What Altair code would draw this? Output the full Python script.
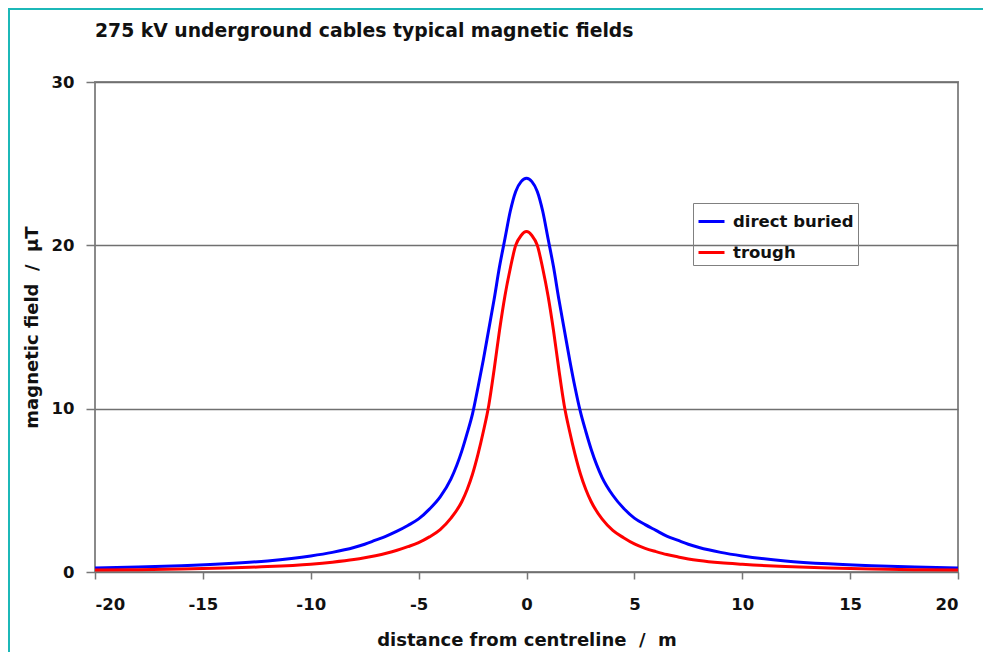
import altair as alt
import pandas as pd

# ---- data ----
x_m = [-20, -18, -16, -14, -12, -10, -9, -8, -7.5, -7, -6.5, -6, -5.5, -5, -4.5, -4, -3.5, -3,
       -2.75, -2.5, -2.25, -2, -1.75, -1.5, -1.25, -1, -0.75, -0.5, -0.25, 0,
       0.25, 0.5, 0.75, 1, 1.25, 1.5, 1.75, 2, 2.25, 2.5, 2.75,
       3, 3.5, 4, 4.5, 5, 5.5, 6, 6.5, 7, 7.5, 8, 9, 10, 12, 14, 16, 18, 20]

direct_buried = [0.25, 0.3, 0.38, 0.5, 0.68, 0.98, 1.2, 1.5, 1.7, 1.95, 2.2, 2.5, 2.85, 3.25, 3.85, 4.6, 5.7, 7.4,
                 8.5, 9.7, 11.3, 13.0, 14.85, 16.7, 18.7, 20.4, 22.1, 23.3, 23.9, 24.1,
                 23.9, 23.3, 22.1, 20.4, 18.7, 16.7, 14.85, 13.0, 11.3, 9.8, 8.6,
                 7.5, 5.8, 4.7, 3.9, 3.3, 2.9, 2.55, 2.2, 1.95, 1.7, 1.5, 1.2, 0.98, 0.68, 0.5, 0.38, 0.3, 0.25]

trough = [0.12, 0.14, 0.18, 0.24, 0.33, 0.48, 0.6, 0.76, 0.87, 1.0, 1.15, 1.33, 1.55, 1.8, 2.15, 2.6, 3.3, 4.3,
          5.05, 6.0, 7.2, 8.6, 10.2, 12.4, 14.8, 16.9, 18.6, 20.0, 20.6, 20.84,
          20.6, 20.0, 18.6, 16.9, 14.8, 12.4, 10.2, 8.6, 7.2, 6.0, 5.05,
          4.3, 3.25, 2.55, 2.1, 1.72, 1.45, 1.25, 1.07, 0.93, 0.8, 0.7, 0.56, 0.47, 0.33, 0.24, 0.18, 0.14, 0.12]

series_names = ["direct buried", "trough"]
series_colors = ["#0000ff", "#ff0000"]
x_ticks = [-20, -15, -10, -5, 0, 5, 10, 15, 20]
y_ticks = [0, 10, 20, 30]

rows = []
for name, vals in zip(series_names, [direct_buried, trough]):
    for xv, v in zip(x_m, vals):
        rows.append({"x": xv, "B": v, "series": name})
df = pd.DataFrame(rows)

FONT = "DejaVu Sans"
TEAL = "#1cb8b8"

lines = alt.Chart(df).mark_line(strokeWidth=3, interpolate="monotone", strokeJoin="round").encode(
    x=alt.X("x:Q",
            scale=alt.Scale(domain=[-20, 20], nice=False, zero=False),
            axis=alt.Axis(values=x_ticks, grid=False, domain=False,
                          title="distance from centreline \u00a0/\u00a0 m",
                          labelExpr="'' + datum.value",
                          tickSize=7, labelPadding=17, titlePadding=19)),
    y=alt.Y("B:Q",
            scale=alt.Scale(domain=[0, 30], nice=False),
            axis=alt.Axis(values=y_ticks, grid=True, domain=False,
                          title="magnetic field \u00a0/\u00a0 \u00b5T",
                          tickSize=9, labelPadding=12, titlePadding=10)),
    color=alt.Color("series:N",
                    scale=alt.Scale(domain=series_names, range=series_colors),
                    legend=alt.Legend(title=None, orient="none", legendX=598, legendY=121,
                                      symbolType="stroke", symbolSize=676, symbolStrokeWidth=3,
                                      strokeColor="#808080", padding=4, rowPadding=8,
                                      labelFont=FONT, labelFontSize=16.5, labelFontWeight="bold",
                                      labelColor="#111111", labelOffset=7)),
)

frame_df = pd.DataFrame({"k": [0]})
left_edge = alt.Chart(frame_df).mark_rule(color=TEAL, strokeWidth=2).encode(
    x=alt.value(-86), y=alt.value(-74), y2=alt.value(578))
top_edge = alt.Chart(frame_df).mark_rule(color=TEAL, strokeWidth=2).encode(
    x=alt.value(-87), x2=alt.value(896), y=alt.value(-73))

chart = alt.layer(lines, left_edge, top_edge).properties(
    width=863, height=490,
    autosize=alt.AutoSizeParams(type="none"),
    padding={"left": 87, "top": 74, "right": 25, "bottom": 80},
    title=alt.TitleParams("275 kV underground cables typical magnetic fields",
                          anchor="start", frame="group", font=FONT, fontSize=18.8,
                          fontWeight="bold", color="#111111", offset=-34),
    background="white",
).configure_view(
    stroke="#8a8a8a", strokeWidth=2
).configure_axis(
    labelFont=FONT, labelFontSize=16.5, labelFontWeight="bold", labelColor="#111111",
    titleFont=FONT, titleFontSize=18, titleFontWeight="bold", titleColor="#111111",
    gridColor="#707070", gridWidth=1.5, gridOpacity=1,
    tickColor="#777777", tickWidth=1.5,
)

chart.save("out.html", embed_options={"renderer": "svg", "actions": False})
